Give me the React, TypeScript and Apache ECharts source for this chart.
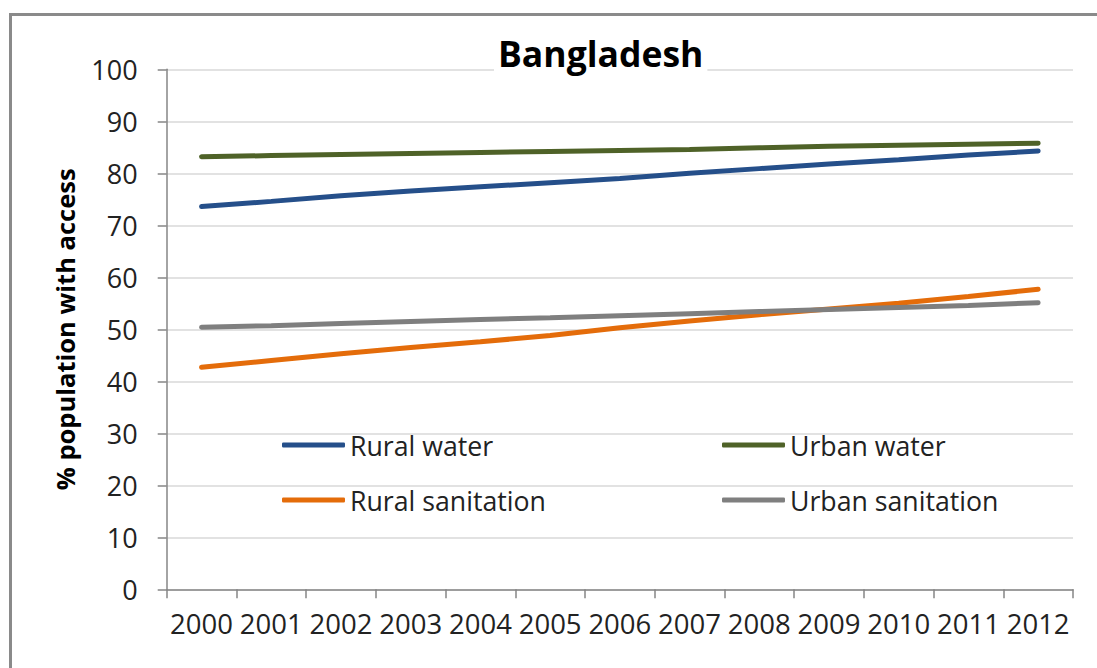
import React, { useEffect, useRef } from "react";
import * as echarts from "echarts";

const years = ["2000", "2001", "2002", "2003", "2004", "2005", "2006", "2007", "2008", "2009", "2010", "2011", "2012"];
const ruralWater = [73.6, 74.6, 75.7, 76.6, 77.4, 78.2, 79.0, 80.0, 80.9, 81.8, 82.6, 83.5, 84.3];
const urbanWater = [83.2, 83.4, 83.6, 83.8, 84.0, 84.2, 84.4, 84.6, 84.9, 85.2, 85.4, 85.6, 85.8];
const ruralSanitation = [42.7, 44.0, 45.3, 46.5, 47.6, 48.8, 50.3, 51.6, 52.8, 53.9, 55.0, 56.3, 57.7];
const urbanSanitation = [50.4, 50.7, 51.1, 51.5, 51.9, 52.2, 52.6, 53.0, 53.4, 53.8, 54.2, 54.6, 55.1];
const yTicks = [0, 10, 20, 30, 40, 50, 60, 70, 80, 90, 100];

const FONT = "'Open Sans', 'Noto Sans', sans-serif";

export default function App() {
  const ref = useRef<HTMLDivElement>(null);
  useEffect(() => {
    if (!ref.current) return;
    const chart = echarts.init(ref.current, undefined, { renderer: "svg" });
    const mkLine = (name: string, data: number[], color: string) => ({
      name,
      type: "line",
      data,
      showSymbol: false,
      symbol: "none",
      lineStyle: { color, width: 5, cap: "round" },
      itemStyle: { color },
      z: 3,
    });
    const legendBase = {
      orient: "horizontal",
      itemWidth: 63,
      itemHeight: 5,
      icon: "roundRect",
      padding: 0,
      itemGap: 0,
      textStyle: { fontSize: 26.7, fontFamily: FONT, color: "#222", lineHeight: 30 },
    };
    chart.setOption({
      animation: false,
      backgroundColor: "#fff",
      textStyle: { fontFamily: FONT },
      title: {
        text: "Bangladesh",
        left: 494,
        top: 33,
        padding: [0, 4],
        backgroundColor: "#fff",
        textStyle: { fontSize: 35.5, fontWeight: "bold", color: "#000", fontFamily: FONT, lineHeight: 40 },
        z: 10,
      },
      legend: [
        { ...legendBase, left: 282, top: 430, data: ["Rural water"] },
        { ...legendBase, left: 722, top: 430, data: ["Urban water"] },
        { ...legendBase, left: 282, top: 485, data: ["Rural sanitation"] },
        { ...legendBase, left: 722, top: 485, data: ["Urban sanitation"] },
      ],
      grid: { left: 166.7, right: 24, top: 69.3, bottom: 78.7, containLabel: false },
      xAxis: {
        type: "category",
        data: years,
        boundaryGap: true,
        axisLine: { lineStyle: { color: "#868686", width: 1.5 } },
        axisTick: { show: true, length: 9, inside: false, alignWithLabel: false, lineStyle: { color: "#868686", width: 1.5 } },
        axisLabel: { fontSize: 27.5, color: "#222", margin: 20, fontFamily: FONT, interval: 0 },
        splitLine: { show: false },
      },
      yAxis: {
        type: "value",
        min: yTicks[0],
        max: yTicks[yTicks.length - 1],
        interval: 10,
        name: "% population with access",
        nameLocation: "middle",
        nameGap: 89,
        nameTextStyle: { fontSize: 25.5, fontWeight: "bold", color: "#000", fontFamily: FONT },
        axisLine: { show: true, lineStyle: { color: "#868686", width: 1.5 } },
        axisTick: { show: true, length: 9, lineStyle: { color: "#868686", width: 1.5 } },
        axisLabel: { fontSize: 27, color: "#222", margin: 29, fontFamily: FONT },
        splitLine: { show: true, lineStyle: { color: "#D9D9D9", width: 1.5 } },
      },
      series: [
        mkLine("Rural water", ruralWater, "#254F8A"),
        mkLine("Urban water", urbanWater, "#4F6228"),
        mkLine("Rural sanitation", ruralSanitation, "#E46C0A"),
        mkLine("Urban sanitation", urbanSanitation, "#7F7F7F"),
      ],
      graphic: [
        {
          type: "rect",
          shape: { x: 10.5, y: 14.5, width: 1110, height: 700 },
          style: { fill: "none", stroke: "#8A8A8A", lineWidth: 3 },
          silent: true,
          z: 100,
        },
      ],
    });
    return () => chart.dispose();
  }, []);
  return <div ref={ref} style={{ width: 1097, height: 668, position: "absolute", left: 0, top: 0 }} />;
}
